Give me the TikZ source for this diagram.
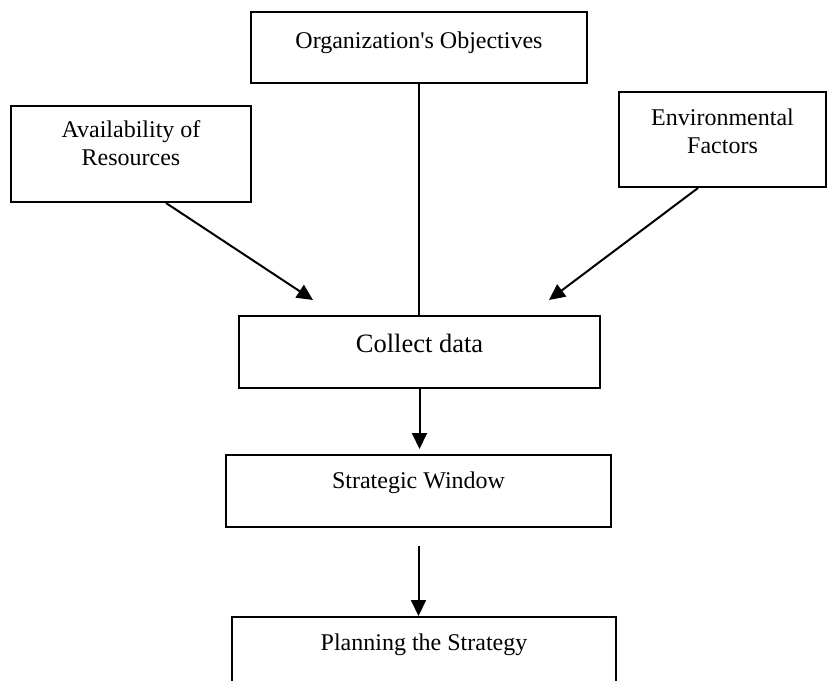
\documentclass[tikz,border=0pt]{standalone}
\usepackage{fontspec}
\setmainfont{Liberation Serif}
\usetikzlibrary{arrows.meta,positioning}

\begin{document}
\begin{tikzpicture}[x=1pt, y=-1pt, line width=2pt,
  box/.style={draw, inner sep=0pt, align=center, font=\fontsize{24}{28}\selectfont},
  arr/.style={-{Triangle[length=16pt,width=15pt]}}]
\useasboundingbox (0,0) rectangle (827,680);
%\draw [help lines] (0,0) grid [step=50] (827,680);
%1
\node[box, minimum width=336pt, text height=36pt, text depth=35pt] (obj) at (419,47.5) {Organization\textquotesingle s Objectives};
\node[box, minimum width=240pt, text height=59pt, text depth=37pt] (avail) at (131,154) {Availability of\\Resources};
\node[box, minimum width=207pt, text height=61pt, text depth=34pt] (env) at (722.5,139.5) {Environmental\\Factors};
%2
\node[box, minimum width=361pt, text height=36pt, text depth=36pt, font=\fontsize{26.5}{31}\selectfont] (data) at (419.5,352) {Collect data};
\node[box, minimum width=385pt, text height=33pt, text depth=39pt] (window) at (418.5,491) {Strategic Window};
\node[box, minimum width=384pt, text height=33pt, text depth=50pt] (plan) at (424,658.5) {Planning the Strategy};
%3
\coordinate (availtip) at (313,300);
\coordinate (envtip) at (549,300);
\draw (obj.south) -- (obj.south |- data.north);
\draw[arr] ([xshift=35pt]avail.south) -- (availtip);
\draw[arr] ([xshift=-24.5pt]env.south) -- (envtip);
\draw[arr, shorten >=5pt] (data.south) -- (data.south |- window.north);
\draw[arr] ([yshift=-18pt]window.south) -- (window.south |- plan.north);
\end{tikzpicture}
\end{document}
